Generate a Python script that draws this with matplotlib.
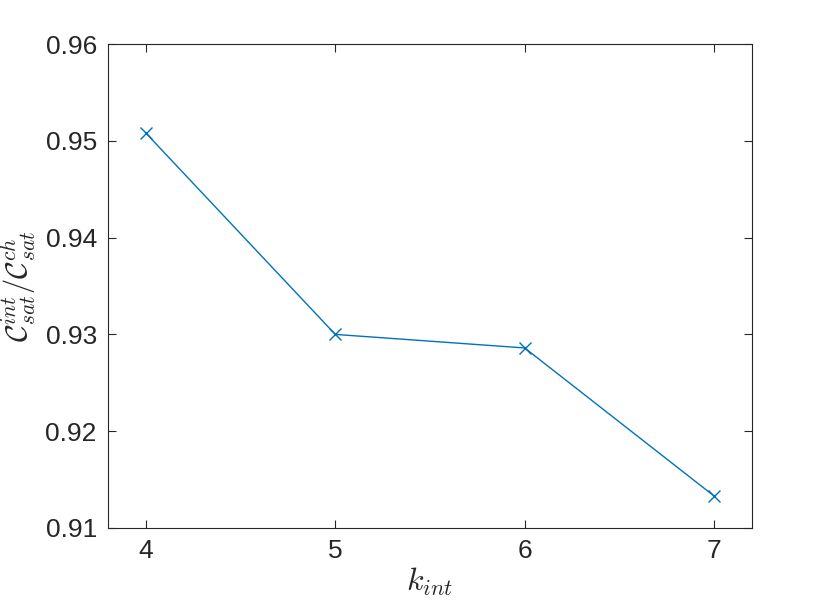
import matplotlib
matplotlib.use("Agg")
import matplotlib.pyplot as plt

k_int = [4, 5, 6, 7]
ratio = [0.9508, 0.9300, 0.9286, 0.9133]
xticks = [4, 5, 6, 7]
yticks = [0.91, 0.92, 0.93, 0.94, 0.95, 0.96]

plt.rcParams['font.family'] = ['Liberation Sans', 'DejaVu Sans']
plt.rcParams['mathtext.fontset'] = 'cm'

fig = plt.figure(figsize=(8.3, 6.08), dpi=100)
ax = fig.add_axes([0.1301, 0.1316, 0.906 - 0.1301, 0.9276 - 0.1316])
ax.plot(k_int, ratio, color='#0072BD', lw=1.0, marker='x', ms=8, mew=1.0)
ax.set_xlim(3.8, 7.2)
ax.set_ylim(0.91, 0.96)
ax.set_xticks(xticks)
ax.set_yticks(yticks)
ax.set_yticklabels([f"{v:.2f}" for v in yticks])
ax.tick_params(direction='in', top=True, right=True, length=6, width=0.8,
               colors='#262626', labelsize=19, pad=8)
for s in ax.spines.values():
    s.set_color('#262626')
    s.set_linewidth(0.8)
ax.set_xlabel(r'$k_{int}$', fontsize=23, color='#262626', labelpad=2)
ax.set_ylabel(r'$\mathcal{C}^{int}_{sat}/\mathcal{C}^{ch}_{sat}$', fontsize=22,
              color='#262626')
ax.yaxis.set_label_coords(-0.108, 0.5)
fig.savefig('out.png', dpi=100)
